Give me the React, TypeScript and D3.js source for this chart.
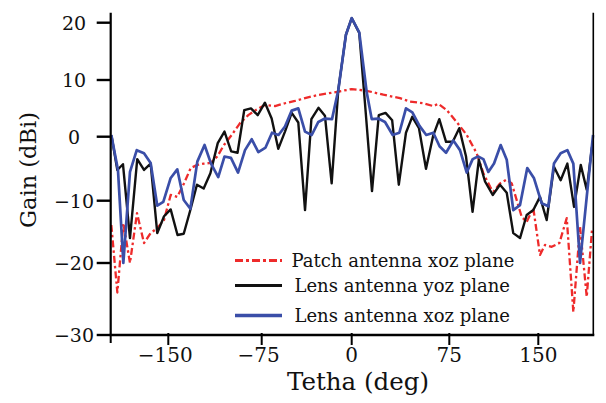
import React from "react";
import * as d3 from "d3";

// ---- data ----
const thetaPatchXoz = [-195.5,-190.7,-185.9,-180.6,-175.0,-169.4,-164.1,-158.8,-153.4,-148.1,-142.8,-137.4,-132.0,-126.7,-121.3,-116.0,-110.7,-105.3,-99.1,-92.4,-85.8,-79.0,-72.3,-63.9,-55.6,-47.3,-38.9,-29.2,-15.3,0,11.5,24.3,37.1,44.8,55.0,62.7,66.5,73.0,81.2,89.7,98.1,103.7,109.3,112.1,117.7,123.4,127.6,131.8,136.0,140.2,145.8,151.4,155.6,161.2,167.6,173.8,179.3,184.9,190.5,194.9];
const gainPatchXoz = [-13.9,-24.1,-13.6,-20.0,-12.0,-16.8,-15.2,-14.4,-13.1,-9.1,-9.4,-7.3,-4.9,-4.4,-4.2,-4.1,-3.1,-1.3,0.3,2.4,3.8,4.8,5.6,5.4,5.9,6.3,6.8,7.3,7.8,8.4,8.1,7.4,6.8,6.2,5.9,5.4,5.8,4.7,2.6,0.3,-2.6,-5.7,-7.8,-8.6,-7.3,-6.7,-7.3,-9.9,-12.6,-13.4,-11.2,-18.7,-17.1,-17.4,-16.8,-12.8,-26.8,-14.2,-24.7,-14.7];

const thetaLensYoz = [-195.4,-190.7,-186.2,-180.6,-174.8,-169.4,-164.1,-158.8,-153.4,-148.1,-142.6,-137.6,-132.3,-127.0,-121.6,-116.2,-110.3,-104.9,-99.5,-94.4,-89.0,-83.6,-78.2,-72.3,-66.7,-61.2,-55.6,-50.0,-44.5,-38.9,-33.6,-27.7,-22.3,-16.7,-11.2,-4.8,0,5.8,10.2,15.6,20.8,26.0,31.1,36.2,41.7,46.5,51.7,57.1,62.5,67.3,72.5,77.9,83.4,89.1,94.6,99.9,105.1,111.6,117.7,123.4,128.9,134.6,140.2,145.8,151.4,157.0,163.1,168.7,174.3,179.9,185.5,190.5,194.9];
const gainLensYoz = [0.2,-5.2,-4.3,-16.0,-3.5,-5.2,-4.2,-15.2,-12.5,-11.4,-15.5,-15.3,-11.5,-7.5,-8.1,-5.7,-1.0,0.9,-2.3,-2.5,4.7,5.0,3.8,6.0,3.2,-1.9,0.9,4.2,2.5,-11.5,3.1,5.1,3.7,-7.3,8.2,17.9,20.8,18.2,5.9,-8.5,3.8,4.2,2.9,-7.5,0.7,3.5,1.5,-5.0,0.1,3.1,-0.8,-0.8,1.5,-3.1,-11.8,-3.6,-7.0,-9.1,-7.5,-8.75,-15.2,-16.0,-12.3,-11.5,-9.4,-13.1,-4.7,-6.8,-4.2,-11.0,-4.4,-8.3,-1.6];

const thetaLensXoz = [-195.5,-190.2,-185.9,-180.6,-175.2,-169.4,-164.1,-158.8,-154.0,-148.2,-142.8,-137.6,-132.3,-126.7,-120.9,-115.7,-109.9,-104.9,-99.7,-94.0,-88.4,-83.0,-77.7,-71.8,-66.4,-61.0,-55.6,-50.0,-44.5,-38.9,-33.3,-27.8,-22.3,-16.4,-11.2,-4.8,0,5.8,11.5,15.4,20.4,25.6,31.5,36.6,41.7,46.6,52.1,57.3,62.7,67.5,72.5,78.4,84.0,89.7,94.7,99.2,103.7,107.9,112.7,118.3,123.4,128.9,134.6,140.7,146.4,152.8,158.4,163.1,168.7,174.3,179.3,184.9,190.5,195.8];
const gainLensXoz = [0.3,-5.2,-20.0,-5.5,-2.1,-2.6,-4.1,-10.8,-10.2,-6.5,-5.1,-9.9,-11.3,-3.9,-1.3,-4.2,-6.3,-3.1,-3.3,-5.6,-2.1,-0.4,-2.4,-1.7,0.7,0.3,1.8,4.6,5.0,0.9,0.3,2.6,3.2,3.1,8.2,17.9,20.8,18.3,7.9,3.1,3.2,2.6,0.3,0.7,5.0,4.3,1.9,0.3,0.7,-1.5,-2.5,-0.6,-2.1,-5.6,-3.5,-3.1,-3.5,-5.5,-4.2,-1.3,-3.6,-11.5,-10.7,-4.9,-6.5,-10.4,-10.9,-4.2,-2.6,-2.1,-4.2,-20.0,-9.4,0.3];

const xTicks = [-150, -75, 0, 75, 150];
const yTicks = [-30, -20, -10, 0, 10, 20];
const seriesNames = ["Patch antenna xoz plane", "Lens antenna yoz plane", "Lens antenna xoz plane"];
const xTitle = "Tetha (deg)";
const yTitle = "Gain (dBi)";

// ---- layout (calibrated to the reference picture) ----
const W = 606, H = 403;
const xScale = d3.scaleLinear()
  .domain([-196, -150, -75, 0, 75, 150, 196])
  .range([110.7, 168.3, 261.7, 351.7, 449.3, 538.3, 593.3]);
const yScale = d3.scaleLinear()
  .domain([-30, -20, -10, 0, 10, 20])
  .range([335, 263, 200.7, 136.7, 80, 22.7]);

const FONT = "'DejaVu Serif', serif";

const series = [
  { name: seriesNames[0], th: thetaPatchXoz, g: gainPatchXoz, color: "#ee2b2b", width: 2.3, dash: "7,3,2.5,3" },
  { name: seriesNames[1], th: thetaLensYoz, g: gainLensYoz, color: "#111111", width: 2.4, dash: undefined },
  { name: seriesNames[2], th: thetaLensXoz, g: gainLensXoz, color: "#3a4ea8", width: 2.7, dash: undefined },
];

export default function App() {
  const line = d3.line<[number, number]>()
    .x((d) => xScale(d[0]))
    .y((d) => yScale(d[1]));

  const fmt = d3.format("d");
  const x0 = xScale.range()[0];
  const x1 = xScale.range()[xScale.range().length - 1];
  const yBottom = yScale(-30);
  const yTop = 12.7;

  const legendRows = [
    { y: 260.5, textX: 291.5 },
    { y: 285.5, textX: 294.5 },
    { y: 315.5, textX: 294.5 },
  ];

  return (
    <svg width={W} height={H} viewBox={`0 0 ${W} ${H}`}
      style={{ position: "absolute", left: 0, top: 0, display: "block", background: "#fff" }}>
      <rect x={0} y={0} width={W} height={H} fill="#fff" />
      {series.map((s) => (
        <path key={s.name}
          d={line(s.th.map((t, i) => [t, s.g[i]] as [number, number])) || ""}
          fill="none" stroke={s.color} strokeWidth={s.width}
          strokeDasharray={s.dash} strokeLinejoin="round" />
      ))}

      {/* axes */}
      <line x1={x0} x2={x0} y1={yTop} y2={yBottom + 1} stroke="#000" strokeWidth={2.2} />
      <line x1={x1} x2={x1} y1={yTop} y2={yBottom} stroke="#000" strokeWidth={1.6} />
      <line x1={x0 - 1} x2={x1 + 1} y1={yBottom} y2={yBottom} stroke="#000" strokeWidth={2.4} />
      <line x1={x0} x2={x0} y1={yBottom} y2={yBottom + 8} stroke="#000" strokeWidth={2} />

      {yTicks.map((v) => (
        <g key={"y" + v}>
          <line x1={x0 - 14} x2={x0} y1={yScale(v)} y2={yScale(v)} stroke="#000" strokeWidth={2.4} />
          <text x={74} y={yScale(v) + 6.8} textAnchor="middle" fontFamily={FONT} fontSize={19} fill="#111">
            {fmt(v)}
          </text>
        </g>
      ))}
      {xTicks.map((v) => (
        <g key={"x" + v}>
          <line x1={xScale(v)} x2={xScale(v)} y1={yBottom - 2} y2={yBottom + 10} stroke="#000" strokeWidth={2} />
          <text x={xScale(v) - (v < 0 ? 3 : 0)} y={362} textAnchor="middle" fontFamily={FONT} fontSize={20} fill="#111">
            {fmt(v)}
          </text>
        </g>
      ))}

      {/* axis titles */}
      <text x={358} y={390} textAnchor="middle" fontFamily={FONT} fontSize={24.5} fill="#111">{xTitle}</text>
      <text transform={`translate(36,170) rotate(-90)`} textAnchor="middle" fontFamily={FONT} fontSize={22.5} fill="#111">{yTitle}</text>

      {/* legend */}
      {series.map((s, i) => (
        <g key={"lg" + i}>
          <line x1={235} x2={282} y1={legendRows[i].y} y2={legendRows[i].y}
            stroke={s.color} strokeWidth={s.width + 0.8} strokeDasharray={s.dash ? "8,3,3,3" : undefined} />
          <text x={legendRows[i].textX} y={legendRows[i].y + 6} fontFamily={FONT} fontSize={18} fill="#111">{s.name}</text>
        </g>
      ))}
    </svg>
  );
}
